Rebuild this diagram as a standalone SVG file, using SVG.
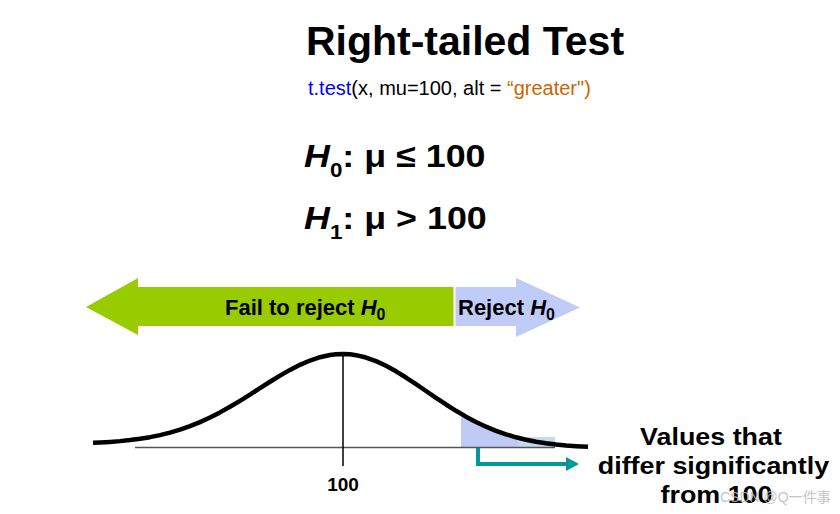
<svg xmlns="http://www.w3.org/2000/svg" width="840" height="514" viewBox="0 0 840 514">
<style>
text{font-family:"Liberation Sans",Arial,sans-serif;font-weight:bold;fill:#000}
.reg{font-weight:normal}
.it{font-style:italic}
.curve{fill:none;stroke:#000;stroke-width:4.5;stroke-linejoin:round;stroke-linecap:butt}
.conn{fill:none;stroke:#009999;stroke-width:4}
</style>
<defs>
<marker id="tealHead" viewBox="0 0 13 14" markerWidth="13" markerHeight="14" refX="0" refY="7" markerUnits="userSpaceOnUse" orient="auto">
<path d="M0,0 L13,7 L0,14 Z" fill="#009999"/>
</marker>
</defs>
<rect width="840" height="514" fill="#fff"/>

<g id="title">
<text x="465" y="55" font-size="41" text-anchor="middle">Right-tailed Test</text>
</g>
<g id="code">
<text x="308" y="95" font-size="20" class="reg"><tspan fill="#0000ff">t.test</tspan><tspan>(x, mu=100, alt = </tspan><tspan fill="#cc6600">“greater")</tspan></text>
</g>
<g id="h0" transform="translate(304,167) scale(1.12,1)">
<text x="0" y="0" font-size="32"><tspan class="it">H</tspan><tspan font-size="20" dy="10">0</tspan><tspan dy="-10">: μ ≤ 100</tspan></text>
</g>
<g id="h1" transform="translate(304,229) scale(1.12,1)">
<text x="0" y="0" font-size="32"><tspan class="it">H</tspan><tspan font-size="20" dy="10">1</tspan><tspan dy="-10">: μ &gt; 100</tspan></text>
</g>

<g id="fail-arrow">
<polygon points="86,307 138,278 138,287 453.5,287 453.5,326 138,326 138,335" fill="#99cc00"/>
<text x="225" y="315" font-size="22">Fail to reject <tspan class="it">H</tspan><tspan font-size="16" dy="5">0</tspan></text>
</g>
<g id="reject-arrow">
<polygon points="455.5,287 516,287 516,278 580,307.5 516,337 516,326 455.5,326" fill="#c0ccf8"/>
<text x="458" y="315" font-size="22">Reject <tspan class="it">H</tspan><tspan font-size="16" dy="5">0</tspan></text>
</g>

<g id="distribution">
<path d="M461,447.5 L461,413.78 L466,416.65 L476,421.96 L486,426.69 L496,430.81 L506,434.33 L516,437.29 L526,439.73 L536,441.70 L546,443.28 L555,444.4 L555,447.5 Z" fill="#bfcbf6"/>
<rect x="518" y="437" width="37" height="10.5" fill="#c6d8f4"/>
<line x1="135" y1="447.5" x2="555" y2="447.5" stroke="#555" stroke-width="1.5"/>
<line x1="343" y1="354" x2="343" y2="466" stroke="#000" stroke-width="1.5"/>
<path class="curve" d="M93,442.81 L100,442.49 L110,441.90 L120,441.12 L130,440.10 L140,438.80 L150,437.16 L160,435.13 L170,432.65 L180,429.69 L190,426.19 L200,422.14 L210,417.54 L220,412.41 L230,406.80 L240,400.81 L250,394.54 L260,388.13 L270,381.76 L280,375.62 L290,369.90 L300,364.81 L310,360.53 L320,357.23 L330,355.04 L336,354.30 L343,354 L350,354.33 L356,355.15 L366,357.54 L376,361.14 L386,365.81 L396,371.33 L406,377.53 L416,384.16 L426,391.01 L436,397.82 L446,404.48 L456,410.80 L466,416.65 L476,421.96 L486,426.69 L496,430.81 L506,434.33 L516,437.29 L526,439.73 L536,441.70 L546,443.28 L556,444.51 L566,445.46 L576,446.17 L588,446.80"/>
<text x="343" y="491" font-size="19" text-anchor="middle">100</text>
</g>

<g id="values-label" transform="translate(713,0) scale(1.12,1)">
<text x="-1.8" y="445" font-size="24" text-anchor="middle">Values that</text>
<text x="0.4" y="474" font-size="24" text-anchor="middle">differ significantly</text>
<text x="3.1" y="503" font-size="24" text-anchor="middle">from 100</text>
</g>

<g id="connectors">
<path class="conn" d="M478,448 V464 H566" marker-end="url(#tealHead)"/>
</g>

<g id="watermark">
<text x="720" y="502" font-size="14" class="reg" style="fill:#bbbbbb;font-family:'Liberation Sans','Noto Sans CJK SC',sans-serif" opacity="0.85">CSDN @Q一件事</text>
</g>
</svg>
